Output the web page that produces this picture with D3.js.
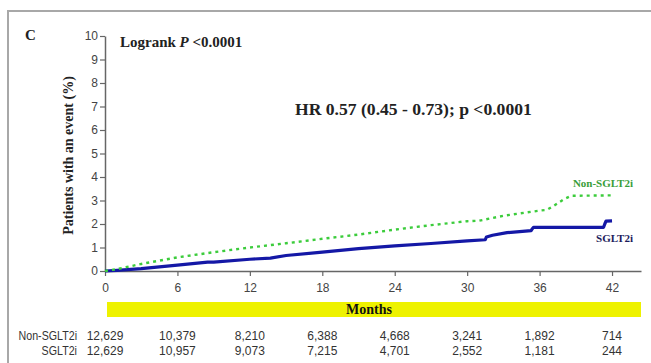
<!DOCTYPE html>
<html>
<head>
<meta charset="utf-8">
<script src="https://cdn.jsdelivr.net/npm/d3@7/dist/d3.min.js"></script>
<style>
  html, body { margin: 0; padding: 0; background: #fff; }
  svg { display: block; }
</style>
</head>
<body>
<svg id="chart" width="651" height="363"></svg>
<script>
// Cumulative event curves (months, % of patients with an event)
const nonSglt2iMonths = [0, 1, 3, 6, 9, 12, 15, 18, 21, 24, 27, 30, 31, 33, 36, 36.6, 37.2, 38, 38.6, 42];
const nonSglt2iValues = [0, 0.08, 0.3, 0.58, 0.8, 1.0, 1.18, 1.37, 1.55, 1.76, 1.95, 2.12, 2.14, 2.35, 2.57, 2.6, 2.78, 3.05, 3.2, 3.22];

const sglt2iMonths = [0, 1, 3, 6, 8.5, 9, 12, 13.7, 15, 18, 21, 24, 27, 30, 31.5, 31.6, 32.1, 33.3, 35.3, 35.4, 35.5, 41.3, 41.4, 41.5, 42];
const sglt2iValues = [0, 0.03, 0.1, 0.25, 0.38, 0.38, 0.5, 0.55, 0.66, 0.8, 0.95, 1.07, 1.17, 1.28, 1.33, 1.45, 1.52, 1.63, 1.72, 1.8, 1.86, 1.86, 2.0, 2.12, 2.13];

// Axis ticks
const monthTicks = [0, 6, 12, 18, 24, 30, 36, 42];
const percentTicks = [0, 1, 2, 3, 4, 5, 6, 7, 8, 9, 10];

// Numbers at risk at each month tick
const riskLabels = ["Non-SGLT2i", "SGLT2i"];
const riskNonSglt2i = ["12,629", "10,379", "8,210", "6,388", "4,668", "3,241", "1,892", "714"];
const riskSglt2i = ["12,629", "10,957", "9,073", "7,215", "4,701", "2,552", "1,181", "244"];

const svg = d3.select("#chart");
const serif = "'Liberation Serif', 'Times New Roman', serif";
const sans = "'Liberation Sans', Arial, sans-serif";

const x = d3.scaleLinear().domain([0, 44.4]).range([105, 641]);
const y = d3.scaleLinear().domain([0, 10]).range([271, 36]);

// Panel frame (top and left edges)
svg.append("path")
  .attr("d", "M8,363 L8,11 L651,11")
  .attr("fill", "none")
  .attr("stroke", "#a8a8a8")
  .attr("stroke-width", 2);

// Panel letter
svg.append("text")
  .attr("x", 25).attr("y", 40)
  .attr("font-family", serif).attr("font-weight", "bold").attr("font-size", 15)
  .attr("fill", "#222")
  .text("C");

// Axes
const xAxis = svg.append("g")
  .attr("transform", `translate(0,${y(0)})`)
  .call(d3.axisBottom(x).tickValues(monthTicks).tickSize(5).tickSizeOuter(0));
const yAxis = svg.append("g")
  .attr("transform", `translate(${x(0)},0)`)
  .call(d3.axisLeft(y).tickValues(percentTicks).tickSize(5).tickSizeOuter(0));

[xAxis, yAxis].forEach(g => {
  g.select(".domain").attr("stroke", "#666").attr("stroke-width", 1.5);
  g.selectAll(".tick line").attr("stroke", "#666").attr("stroke-width", 1.2);
  g.selectAll(".tick text")
    .attr("font-family", sans).attr("font-size", 12).attr("fill", "#444");
});
xAxis.selectAll(".tick text").attr("dy", "0.71em").attr("y", 12);
yAxis.selectAll(".tick text").attr("x", -7);

// Y axis title
svg.append("text")
  .attr("transform", `translate(73,${(y(0) + y(10)) / 2 + 2}) rotate(-90)`)
  .attr("text-anchor", "middle")
  .attr("font-family", serif).attr("font-weight", "bold").attr("font-size", 14)
  .attr("fill", "#222")
  .text("Patients with an event (%)");

// Curves
const line = d3.line().x(d => x(d[0])).y(d => y(d[1]));
const nonData = nonSglt2iMonths.map((m, i) => [m, nonSglt2iValues[i]]);
const sgData = sglt2iMonths.map((m, i) => [m, sglt2iValues[i]]);

svg.append("path")
  .datum(sgData)
  .attr("d", line)
  .attr("fill", "none")
  .attr("stroke", "#1418a6")
  .attr("stroke-width", 3.2)
  .attr("stroke-linejoin", "round");

svg.append("path")
  .datum(nonData)
  .attr("d", line)
  .attr("fill", "none")
  .attr("stroke", "#3ccc3c")
  .attr("stroke-width", 2.4)
  .attr("stroke-dasharray", "3,4");

// Curve labels
svg.append("text")
  .attr("x", 633).attr("y", 187)
  .attr("text-anchor", "end")
  .attr("font-family", serif).attr("font-weight", "bold").attr("font-size", 11)
  .attr("fill", "#3a9e3a")
  .text("Non-SGLT2i");
svg.append("text")
  .attr("x", 633).attr("y", 242)
  .attr("text-anchor", "end")
  .attr("font-family", serif).attr("font-weight", "bold").attr("font-size", 11)
  .attr("fill", "#1c1c5c")
  .text("SGLT2i");

// Statistics
const logrank = svg.append("text")
  .attr("x", 120).attr("y", 47)
  .attr("font-family", serif).attr("font-weight", "bold").attr("font-size", 15)
  .attr("fill", "#222");
logrank.append("tspan").text("Logrank ");
logrank.append("tspan").attr("font-style", "italic").text("P");
logrank.append("tspan").text(" <0.0001");

svg.append("text")
  .attr("x", 295).attr("y", 115)
  .attr("font-family", serif).attr("font-weight", "bold").attr("font-size", 17.6)
  .attr("fill", "#222")
  .text("HR 0.57 (0.45 - 0.73); p <0.0001");

// Months band
svg.append("rect")
  .attr("x", 107).attr("y", 302)
  .attr("width", 641 - 107).attr("height", 15)
  .attr("fill", "#eef200");
svg.append("text")
  .attr("x", 369).attr("y", 314)
  .attr("text-anchor", "middle")
  .attr("font-family", serif).attr("font-weight", "bold").attr("font-size", 14)
  .attr("fill", "#111")
  .text("Months");

// Numbers at risk
const riskRows = [riskNonSglt2i, riskSglt2i];
const rowY = [340, 355];
riskRows.forEach((row, r) => {
  // group labels are set in a slightly condensed face
  svg.append("text")
    .attr("transform", `translate(77,${rowY[r]}) scale(0.89,1)`)
    .attr("text-anchor", "end")
    .attr("font-family", sans).attr("font-size", 12)
    .attr("fill", "#333")
    .text(riskLabels[r]);
  svg.selectAll(null)
    .data(row)
    .enter().append("text")
    .attr("x", (d, i) => x(monthTicks[i]))
    .attr("y", rowY[r])
    .attr("text-anchor", "middle")
    .attr("font-family", sans).attr("font-size", 12)
    .attr("fill", "#333")
    .text(d => d);
});
</script>
</body>
</html>
